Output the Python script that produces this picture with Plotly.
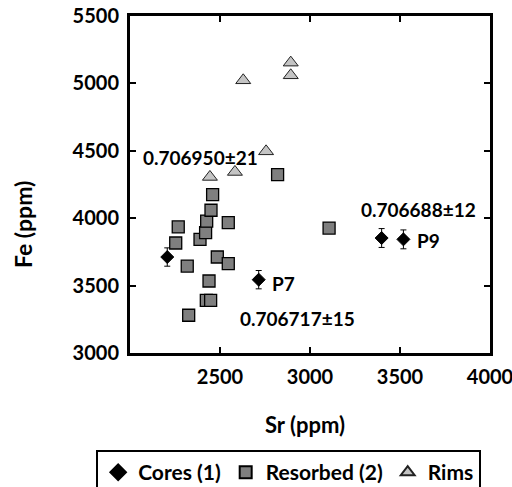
import plotly.graph_objects as go

# ---- data ----
cores_sr = [2207, 2715, 3398, 3519]
cores_fe = [3712, 3544, 3853, 3843]
cores_err = [68, 68, 70, 70]

resorbed_sr = [2268, 2254, 2389, 2420, 2426, 2450, 2459, 2546, 2820, 3106,
               2318, 2485, 2546, 2439, 2424, 2448, 2326]
resorbed_fe = [3935, 3816, 3843, 3893, 3979, 4059, 4175, 3967, 4323, 3927,
               3645, 3712, 3663, 3534, 3391, 3391, 3280]

rims_sr = [2629, 2893, 2893, 2756, 2583, 2444]
rims_fe = [5023, 5154, 5060, 4496, 4343, 4306]

x_ticks = [2500, 3000, 3500, 4000]
y_ticks = [3000, 3500, 4000, 4500, 5000, 5500]

labels = ["0.706950±21", "0.706688±12", "P9", "P7", "0.706717±15"]
label_sr = [2389, 3600, 3659, 2850, 2928]
label_fe = [4454, 4064, 3836, 3515, 3255]

FONT = "Lato"

fig = go.Figure()
fig.add_trace(go.Scatter(
    x=cores_sr, y=cores_fe, mode="markers", name="Cores (1)",
    marker=dict(symbol="diamond", size=10, color="black",
                line=dict(color="black", width=1)),
    error_y=dict(type="data", array=cores_err, color="black",
                 thickness=1, width=3),
))
fig.add_trace(go.Scatter(
    x=resorbed_sr, y=resorbed_fe, mode="markers", name="Resorbed (2)",
    marker=dict(symbol="square", size=12, color="#7f7f7f",
                line=dict(color="black", width=1.3)),
))
fig.add_trace(go.Scatter(
    x=rims_sr, y=rims_fe, mode="markers", name="Rims",
    marker=dict(symbol="triangle-up", size=13, color="#c4c4c4",
                line=dict(color="#222222", width=1)),
))

for t, xs, ys in zip(labels, label_sr, label_fe):
    fig.add_annotation(x=xs, y=ys, text="<b>%s</b>" % t, showarrow=False,
                       font=dict(family=FONT, size=19, color="black"),
                       xanchor="center", yanchor="middle")

fig.add_annotation(xref="paper", yref="paper", x=-0.297, y=0.38,
                   text="<b>Fe (ppm)</b>", textangle=-90, showarrow=False,
                   font=dict(family=FONT, size=23, color="black"),
                   xanchor="center", yanchor="middle")
fig.add_annotation(xref="paper", yref="paper", x=0.486, y=-0.211,
                   text="<b>Sr (ppm)</b>", showarrow=False,
                   font=dict(family=FONT, size=22, color="black"),
                   xanchor="center", yanchor="middle")

axis_common = dict(showline=True, linewidth=3, linecolor="black",
                   mirror="allticks", ticks="inside", ticklen=6,
                   tickwidth=2, tickcolor="black", showgrid=False,
                   zeroline=False, automargin=False,
                   ticklabelstandoff=4, ticklabeloverflow="allow",
                   tickfont=dict(family=FONT, size=20, color="black", weight="bold"))

fig.update_xaxes(range=[2000, 4000], tickvals=x_ticks,
                 ticktext=[str(v) for v in x_ticks], **axis_common)
fig.update_yaxes(range=[3000, 5500], tickvals=y_ticks,
                 ticktext=[str(v) for v in y_ticks], **axis_common)

fig.update_layout(
    width=512, height=487,
    margin=dict(l=130, r=22, t=16, b=134, autoexpand=False),
    paper_bgcolor="white", plot_bgcolor="white",
    showlegend=True,
    legend=dict(orientation="h", x=-0.094, xanchor="left",
                y=-0.288, yanchor="top",
                bordercolor="black", borderwidth=2,
                font=dict(family=FONT, size=21, color="black", weight="bold"),
                itemsizing="constant"),
)

fig.write_html("out.html")
